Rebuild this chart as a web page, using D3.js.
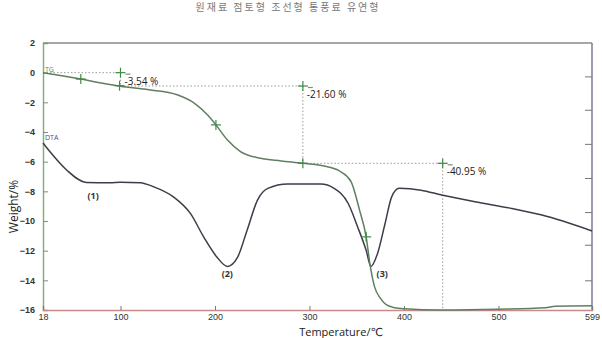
<!DOCTYPE html>
<html>
<head>
<meta charset="utf-8">
<script src="https://cdn.jsdelivr.net/npm/d3@7"></script>
<style>
  body { margin: 0; background: #fff; }
  svg { display: block; font-family: "Open Sans", "DejaVu Sans", sans-serif; }
</style>
</head>
<body>
<div id="chart"></div>
<script>
// TG curve (weight %, left axis)
const tgTemp   = [18, 30, 58, 80, 100, 130, 160, 178, 192, 201, 213, 227, 248, 270, 293, 319, 333, 344, 353, 360, 364, 369, 375, 380, 390, 400, 440, 500, 550, 560, 599];
const tgWeight = [0, -0.12, -0.43, -0.70, -0.92, -1.15, -1.49, -2.05, -2.84, -3.52, -4.53, -5.32, -5.77, -5.95, -6.11, -6.34, -6.68, -7.35, -9.27, -11.07, -12.9, -14.46, -15.2, -15.58, -15.85, -15.92, -16.0, -15.95, -15.85, -15.75, -15.72];

// DTA curve (drawn in the same vertical units)
const dtaTemp  = [18, 25, 43, 64, 89, 100, 121, 135, 156, 174, 188, 202, 213, 224, 234, 245, 256, 277, 312, 326, 341, 351, 360, 365, 372, 380, 387, 395, 418, 440, 475, 514, 546, 599];
const dtaValue = [-4.74, -5.3, -6.56, -7.4, -7.42, -7.38, -7.42, -7.69, -8.37, -9.49, -11.07, -12.43, -13.06, -12.43, -10.62, -8.59, -7.8, -7.51, -7.51, -7.8, -8.82, -10.4, -11.98, -13.06, -12.2, -10.17, -8.37, -7.8, -7.92, -8.25, -8.7, -9.15, -9.6, -10.67];

const xTicks = [18, 100, 200, 300, 400, 500, 599];
const yTicks = [2, 0, -2, -4, -6, -8, -10, -12, -14, -16];
const rightTicks = [-0.25, -2.5, -4.8, -7.1, -9.4, -11.6, -14.0];

// points on TG marked with crosses
const markTemp   = [58, 99, 201, 293, 360];
const markWeight = [-0.43, -0.88, -3.52, -6.11, -11.07];

// step annotations: start temp, end temp, level, lower level, label
const stepFrom   = [18, 100, 293];
const stepTo     = [100, 293, 441];
const stepTop    = [0, -0.9, -6.11];
const stepBottom = [-0.9, -6.11, -16.0];
const stepLabels = ["-3.54 %", "-21.60 %", "-40.95 %"];

const peakTemp   = [71, 213, 377];
const peakValue  = [-8.3, -13.6, -13.6];
const peakLabels = ["(1)", "(2)", "(3)"];

const title = "원재료   점토형   조선형   통풍료   유연형";

const W = 602, H = 338;
const margin = {left: 43, right: 10, top: 43, bottom: 28};

const svg = d3.select("#chart").append("svg")
    .attr("width", W)
    .attr("height", H);

const x = d3.scaleLinear().domain([18, 599]).range([margin.left, W - margin.right]);
const y = d3.scaleLinear().domain([-16, 2]).range([H - margin.bottom, margin.top]);

// title
svg.append("text")
    .attr("x", 288).attr("y", 11)
    .attr("text-anchor", "middle")
    .attr("font-family", "Noto Sans CJK KR")
    .attr("font-size", 10)
    .attr("letter-spacing", 2)
    .attr("fill", "#777")
    .text(title);

// frame
svg.append("line")
    .attr("x1", x(18)).attr("x2", x(599)).attr("y1", y(2)).attr("y2", y(2))
    .attr("stroke", "#8a8a8a").attr("stroke-width", 1.5);
svg.append("line")
    .attr("x1", x(599)).attr("x2", x(599)).attr("y1", y(2)).attr("y2", y(-16))
    .attr("stroke", "#7c7c98").attr("stroke-width", 1.5);

// left axis
const yAxis = d3.axisLeft(y).tickValues(yTicks).tickSize(-5).tickPadding(8).tickFormat(d3.format("d"));
const gy = svg.append("g").attr("transform", `translate(${x(18)},0)`).call(yAxis);
gy.select(".domain").attr("stroke", "#7fb27f").attr("stroke-width", 1.5);
gy.selectAll(".tick line").attr("stroke", "#888");
gy.selectAll(".tick text").attr("font-size", 9).attr("font-weight", "bold").attr("fill", "#333");

// right axis ticks (no labels)
const rAxis = d3.axisRight(y).tickValues(rightTicks).tickSize(-7).tickFormat("");
const gr = svg.append("g").attr("transform", `translate(${x(599)},0)`).call(rAxis);
gr.select(".domain").remove();
gr.selectAll(".tick line").attr("stroke", "#777");

// bottom axis
const xAxis = d3.axisBottom(x).tickValues(xTicks).tickSize(-4).tickPadding(4).tickFormat(d3.format("d"));
const gx = svg.append("g").attr("transform", `translate(0,${y(-16)})`).call(xAxis);
gx.select(".domain").attr("stroke", "#c98a8a").attr("stroke-width", 1.5);
gx.selectAll(".tick line").attr("stroke", "#777");
gx.selectAll(".tick text").attr("font-size", 9).attr("fill", "#333");

// axis titles
svg.append("text")
    .attr("x", W / 2 + 40).attr("y", H - 2)
    .attr("text-anchor", "middle")
    .attr("font-size", 11)
    .attr("fill", "#222")
    .text("Temperature/℃");
svg.append("text")
    .attr("transform", `translate(18,${(y(2) + y(-16)) / 2 + 30}) rotate(-90)`)
    .attr("text-anchor", "middle")
    .attr("font-size", 12)
    .attr("fill", "#222")
    .text("Weight/%");

// step annotations (dotted)
const dotted = svg.append("g")
    .attr("stroke", "#999").attr("stroke-width", 1).attr("stroke-dasharray", "1.5,2").attr("fill", "none");
stepFrom.forEach((s, i) => {
    dotted.append("line")
        .attr("x1", x(s)).attr("x2", x(stepTo[i]))
        .attr("y1", y(stepTop[i])).attr("y2", y(stepTop[i]));
    dotted.append("line")
        .attr("x1", x(stepTo[i])).attr("x2", x(stepTo[i]))
        .attr("y1", y(stepTop[i])).attr("y2", y(stepBottom[i]));
});

// curves
const line = d3.line().curve(d3.curveMonotoneX);
svg.append("path")
    .attr("d", line(dtaTemp.map((t, i) => [x(t), y(dtaValue[i])])))
    .attr("fill", "none").attr("stroke", "#3d3d4a").attr("stroke-width", 1.5);
svg.append("path")
    .attr("d", line(tgTemp.map((t, i) => [x(t), y(tgWeight[i])])))
    .attr("fill", "none").attr("stroke", "#5f7f62").attr("stroke-width", 1.5);

// crosses on TG and at the step ends
const cross = (cx, cy, tail) => {
    const g = svg.append("g").attr("stroke", "#3f8a45").attr("stroke-width", 1.2);
    g.append("line").attr("x1", cx - 5).attr("x2", cx + 5).attr("y1", cy).attr("y2", cy);
    g.append("line").attr("x1", cx).attr("x2", cx).attr("y1", cy - 5).attr("y2", cy + 5);
    if (tail) {
        g.append("line").attr("x1", cx + 5).attr("x2", cx + 10).attr("y1", cy + 1.5).attr("y2", cy + 1.5)
            .attr("stroke", "#888");
    }
};
markTemp.forEach((t, i) => cross(x(t), y(markWeight[i]), false));
stepTo.forEach((t, i) => cross(x(t), y(stepTop[i]), true));

// step labels
stepTo.forEach((t, i) => {
    svg.append("text")
        .attr("x", x(t) + 4).attr("y", y(stepTop[i]) + 12)
        .attr("font-size", 10)
        .attr("fill", "#222")
        .text(stepLabels[i]);
});

// curve names
svg.append("text").attr("x", x(18) + 2).attr("y", y(0) - 1)
    .attr("font-size", 7).attr("fill", "#3f9a45").text("TG");
svg.append("text").attr("x", x(18) + 2).attr("y", y(-4.6) - 1)
    .attr("font-size", 7).attr("fill", "#4a4a9a").text("DTA");

// peak labels
peakTemp.forEach((t, i) => {
    svg.append("text")
        .attr("x", x(t)).attr("y", y(peakValue[i]) + 3)
        .attr("text-anchor", "middle")
        .attr("font-size", 9).attr("font-weight", "bold").attr("fill", "#333")
        .text(peakLabels[i]);
});
</script>
</body>
</html>
